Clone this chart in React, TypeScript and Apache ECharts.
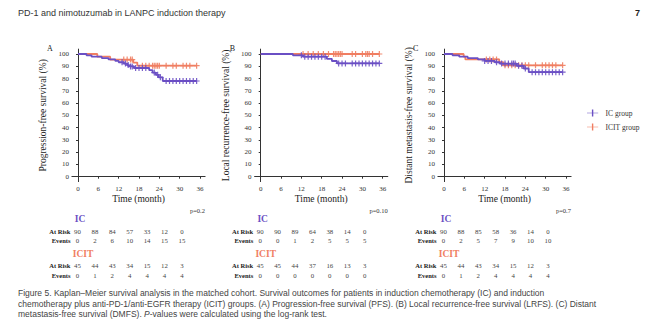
import React, { useEffect, useRef } from "react";
import * as echarts from "echarts";

// ---------- data ----------
const monthTicks = [0, 6, 12, 18, 24, 30, 36];
const survTicks = [0, 10, 20, 30, 40, 50, 60, 70, 80, 90, 100];
const panelLetters = ["A", "B", "C"];
const yTitles = [
  "Progression-free survival (%)",
  "Local recurrence-free survival (%)",
  "Distant metastasis-free survival (%)",
];
const pValues = ["p=0.2", "p=0.10", "p=0.7"];
const groupNames = ["IC group", "ICIT group"];
const tableGroups = ["IC", "ICIT"];

// PFS
const icPfsT = [0, 2.5, 4, 7, 9, 11, 12, 13.5, 14.5, 15, 16.5, 21, 22, 23, 23.8, 25, 35];
const icPfsS = [100, 98.9, 97.8, 96.7, 95.6, 94.4, 93.3, 92.2, 91.0, 89.9, 88.6, 86.8, 84.9, 83.0, 81.0, 78.0, 78.0];
const icPfsCens = [13, 14, 14.8, 15.5, 16, 17, 18, 19, 20, 22.5, 23.5, 24.3, 26, 27, 28, 29, 30, 31, 32, 33, 34, 35];
const itPfsT = [0, 5.7, 9.5, 16.3, 17.5, 35];
const itPfsS = [100, 97.8, 95.5, 93.0, 90.5, 90.5];
const itPfsCens = [13.5, 14.5, 15.5, 16, 19, 20, 21, 22, 22.5, 23, 23.5, 24, 26, 28, 29, 31, 32, 33, 35];

// LRFS
const icLrfsT = [0, 9.5, 12.5, 19.5, 21, 22.5, 35];
const icLrfsS = [100, 98.9, 97.8, 96.1, 94.3, 92.3, 92.3];
const icLrfsCens = [12, 13, 14, 15, 16, 17, 18, 19, 23, 24, 25, 27, 28, 29, 30, 31, 32, 33, 34, 35];
const itLrfsT = [0, 35];
const itLrfsS = [100, 100];
const itLrfsCens = [12.5, 14, 15.5, 17, 18.5, 20, 21.5, 22, 22.5, 23, 23.5, 24, 27, 28, 30, 31, 31.5, 32, 33, 35];

// DMFS
const icDmfsT = [0, 2.5, 4.5, 7, 10, 12, 15, 16.5, 21.5, 23.5, 25, 35];
const icDmfsS = [100, 98.9, 97.8, 96.7, 95.6, 94.4, 93.3, 92.2, 90.4, 88.2, 85.2, 85.2];
const icDmfsCens = [12, 13, 14, 15.5, 17, 18, 19, 20, 20.5, 21, 22, 23, 24, 26, 27, 28, 29, 30, 31, 32, 33, 34, 35];
const itDmfsT = [0, 5.8, 6.3, 16.3, 17.5, 35];
const itDmfsS = [100, 97.8, 95.6, 93.3, 90.8, 90.8];
const itDmfsCens = [12.5, 13.5, 14.5, 15.5, 18, 19, 20, 21, 22, 23, 24, 25, 27, 29, 30, 31, 32, 33, 35];

// Risk tables
const pfsIcRisk = [90, 88, 84, 57, 33, 12, 0];
const pfsIcEvents = [0, 2, 6, 10, 14, 15, 15];
const pfsItRisk = [45, 44, 43, 34, 15, 12, 3];
const pfsItEvents = [0, 1, 2, 4, 4, 4, 4];
const lrfsIcRisk = [90, 90, 89, 64, 38, 14, 0];
const lrfsIcEvents = [0, 0, 1, 2, 5, 5, 5];
const lrfsItRisk = [45, 45, 44, 37, 16, 13, 3];
const lrfsItEvents = [0, 0, 0, 0, 0, 0, 0];
const dmfsIcRisk = [90, 88, 85, 58, 36, 14, 0];
const dmfsIcEvents = [0, 2, 5, 7, 9, 10, 10];
const dmfsItRisk = [45, 44, 43, 34, 15, 12, 3];
const dmfsItEvents = [0, 1, 2, 4, 4, 4, 4];

const headerText = "PD-1 and nimotuzumab in LANPC induction therapy";
const pageNumber = "7";
const captionLines = [
  "Figure 5. Kaplan\u2013Meier survival analysis in the matched cohort. Survival outcomes for patients in induction chemotherapy (IC) and induction",
  "chemotherapy plus anti-PD-1/anti-EGFR therapy (ICIT) groups. (A) Progression-free survival (PFS). (B) Local recurrence-free survival (LRFS). (C) Distant",
  "metastasis-free survival (DMFS). {i|P}-values were calculated using the log-rank test.",
];

// ---------- styling ----------
const PURPLE = "#6a4fc4";
const ORANGE = "#f07e62";
const SERIF = "'Liberation Serif', 'DejaVu Serif', serif";
const SANS = "'Liberation Sans', Arial, sans-serif";
const CROSS = "path://M4,0H6V4H10V6H6V10H4V6H0V4H4Z";

const panels = [
  { ic: [icPfsT, icPfsS, icPfsCens], it: [itPfsT, itPfsS, itPfsCens], tbl: [pfsIcRisk, pfsIcEvents, pfsItRisk, pfsItEvents] },
  { ic: [icLrfsT, icLrfsS, icLrfsCens], it: [itLrfsT, itLrfsS, itLrfsCens], tbl: [lrfsIcRisk, lrfsIcEvents, lrfsItRisk, lrfsItEvents] },
  { ic: [icDmfsT, icDmfsS, icDmfsCens], it: [itDmfsT, itDmfsS, itDmfsCens], tbl: [dmfsIcRisk, dmfsIcEvents, dmfsItRisk, dmfsItEvents] },
];

function survAt(T: number[], S: number[], t: number) {
  let v = S[0];
  for (let i = 0; i < T.length; i++) if (T[i] <= t) v = S[i];
  return v;
}

const X_MIN = -1.8;
const X_MAX = 37.5;
const Y_MIN = -4;
const Y_MAX = 104;
const gridLefts = [71.9, 254.6, 437.9];
const GRID_TOP = 49.1;
const GRID_W = 133.2;
const GRID_H = 132.5;

export default function App() {
  const ref = useRef<HTMLDivElement>(null);
  useEffect(() => {
    if (!ref.current) return;
    const chart = echarts.init(ref.current, undefined, { renderer: "svg" });

    const grids: any[] = [];
    const xAxes: any[] = [];
    const yAxes: any[] = [];
    const series: any[] = [];
    const graphics: any[] = [];

    panels.forEach((p, i) => {
      grids.push({ left: gridLefts[i], top: GRID_TOP, width: GRID_W, height: GRID_H, containLabel: false });
      xAxes.push({
        gridIndex: i,
        type: "value",
        min: X_MIN,
        max: X_MAX,
        name: "Time (month)",
        nameLocation: "middle",
        nameGap: 11,
        nameTextStyle: { fontFamily: SERIF, fontSize: 9.5, color: "#222" },
        axisLine: { show: true, lineStyle: { color: "#333", width: 1 } },
        axisTick: { show: true, length: 2, customValues: monthTicks, lineStyle: { color: "#333" } },
        axisLabel: { customValues: monthTicks, fontFamily: SERIF, fontSize: 7, color: "#333", margin: 4 },
        splitLine: { show: false },
      });
      yAxes.push({
        gridIndex: i,
        type: "value",
        min: Y_MIN,
        max: Y_MAX,
        name: yTitles[i],
        nameLocation: "middle",
        nameRotate: 90,
        nameGap: 24,
        nameTextStyle: { fontFamily: SERIF, fontSize: 9.5, color: "#222" },
        axisLine: { show: true, lineStyle: { color: "#333", width: 1 } },
        axisTick: { show: true, length: 2, customValues: survTicks, lineStyle: { color: "#333" } },
        axisLabel: { customValues: survTicks, fontFamily: SERIF, fontSize: 7, color: "#333", margin: 3 },
        splitLine: { show: false },
      });

      const groups = [p.ic, p.it];
      const colors = [PURPLE, ORANGE];
      groups.forEach((g, k) => {
        const [T, S, C] = g as number[][];
        series.push({
          type: "line",
          name: groupNames[k],
          xAxisIndex: i,
          yAxisIndex: i,
          step: "end",
          showSymbol: false,
          symbol: CROSS,
          symbolSize: [8, 6],
          data: T.map((t, j) => [t, S[j]]),
          lineStyle: { color: colors[k], width: 1.8 },
          itemStyle: { color: colors[k] },
          z: 3 - k,
        });
        series.push({
          type: "scatter",
          name: groupNames[k],
          xAxisIndex: i,
          yAxisIndex: i,
          symbol: CROSS,
          symbolSize: 6,
          data: C.map((t) => [t, survAt(T, S, t)]),
          itemStyle: { color: colors[k], opacity: 0.9 },
          z: 3 - k,
        });
      });

      const off = gridLefts[i] - gridLefts[0];
      graphics.push({
        type: "text",
        left: 47 + off,
        top: 44,
        style: { text: panelLetters[i], font: `8px ${SERIF}`, fill: "#222" },
      });
      graphics.push({
        type: "text",
        x: 205 + off,
        y: 210,
        style: { text: pValues[i], font: `6.5px ${SERIF}`, fill: "#333", align: "right", verticalAlign: "middle" },
      });
      const rows = [
        { label: "At Risk", vals: p.tbl[0], y: 231 },
        { label: "Events", vals: p.tbl[1], y: 240.5 },
        { label: "At Risk", vals: p.tbl[2], y: 265.5 },
        { label: "Events", vals: p.tbl[3], y: 275 },
      ];
      graphics.push({
        type: "text",
        x: 80 + off,
        y: 219,
        style: { text: tableGroups[0], font: `bold 9.5px ${SERIF}`, fill: PURPLE, align: "center", verticalAlign: "middle" },
      });
      graphics.push({
        type: "text",
        x: 83 + off,
        y: 254,
        style: { text: tableGroups[1], font: `bold 9.5px ${SERIF}`, fill: ORANGE, align: "center", verticalAlign: "middle" },
      });
      rows.forEach((r) => {
        graphics.push({
          type: "text",
          x: 70.5 + off,
          y: r.y,
          style: { text: r.label, font: `bold 6.5px ${SERIF}`, fill: "#222", align: "right", verticalAlign: "middle" },
        });
        r.vals.forEach((v, j) => {
          graphics.push({
            type: "text",
            x: 77.5 + off + j * 17.4,
            y: r.y,
            style: { text: String(v), font: `6.8px ${SERIF}`, fill: "#444", align: "center", verticalAlign: "middle" },
          });
        });
      });
    });

    graphics.push({
      type: "text",
      x: 18,
      y: 13,
      style: { text: headerText, font: `9px ${SANS}`, fill: "#333", verticalAlign: "middle" },
    });
    graphics.push({
      type: "text",
      x: 640,
      y: 13,
      style: { text: pageNumber, font: `bold 9px ${SANS}`, fill: "#222", align: "right", verticalAlign: "middle" },
    });
    captionLines.forEach((line, k) => {
      graphics.push({
        type: "text",
        x: 18,
        y: 293 + k * 10.5,
        style: {
          text: line,
          font: `8.5px ${SANS}`,
          fill: "#444",
          verticalAlign: "middle",
          rich: { i: { fontStyle: "italic", fontSize: 8.5, fontFamily: SANS, fill: "#444" } },
        },
      });
    });

    chart.setOption({
      animation: false,
      backgroundColor: "#fff",
      grid: grids,
      xAxis: xAxes,
      yAxis: yAxes,
      legend: {
        data: groupNames,
        orient: "vertical",
        left: 582,
        top: 104,
        itemWidth: 16,
        itemHeight: 7,
        itemGap: 6,
        icon: "path://M0,4.5H7V0H9V4.5H16V5.5H9V10H7V5.5H0Z",
        textStyle: { fontFamily: SERIF, fontSize: 7.5, color: "#333" },
      },
      series,
      graphic: graphics,
    });
    return () => chart.dispose();
  }, []);
  return <div ref={ref} style={{ position: "fixed", left: 0, top: 0, width: 650, height: 325 }} />;
}
